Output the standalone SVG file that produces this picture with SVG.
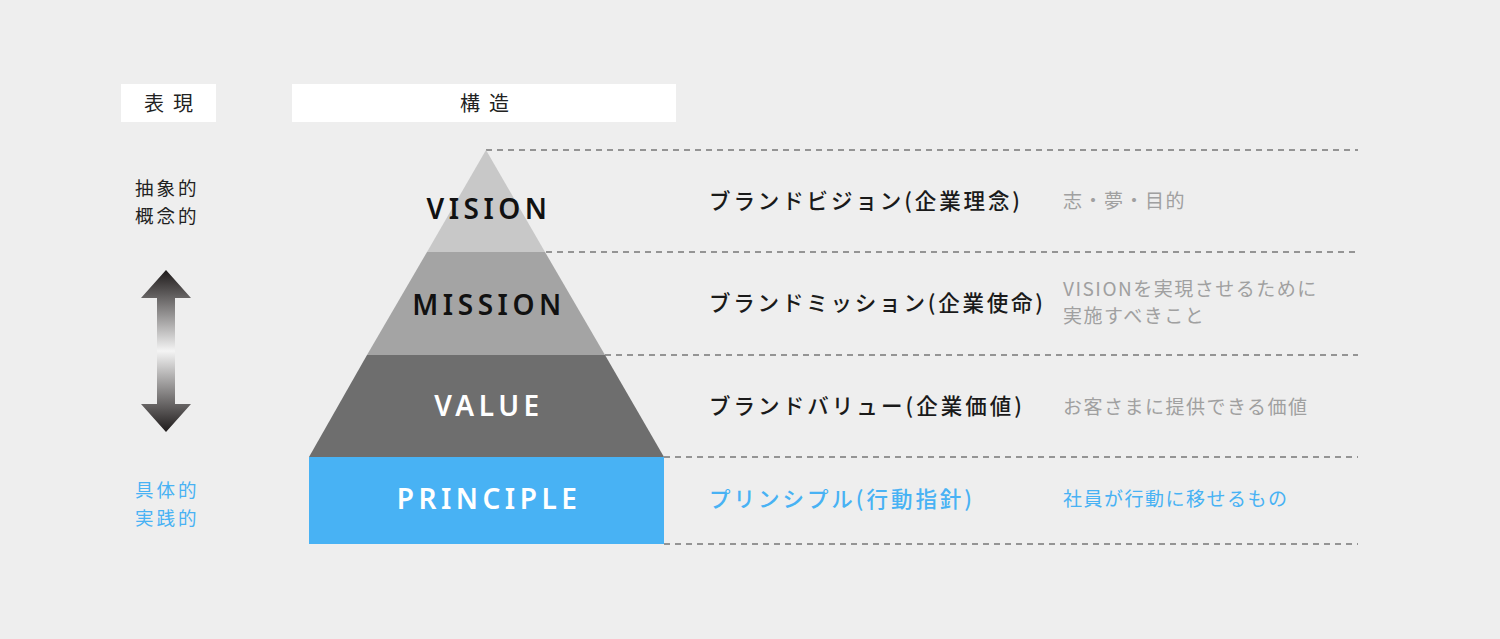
<svg xmlns="http://www.w3.org/2000/svg" width="1500" height="639" viewBox="0 0 1500 639">
<defs>
<linearGradient id="arrowGrad" x1="0" y1="270" x2="0" y2="432" gradientUnits="userSpaceOnUse">
<stop offset="0" stop-color="#1e1a1a"/>
<stop offset="0.5" stop-color="#f4f4f4"/>
<stop offset="1" stop-color="#1e1a1a"/>
</linearGradient>
<style>
.hdr{fill:#ffffff}
.hdrt{font-family:"Noto Sans CJK JP","Noto Sans",sans-serif;font-size:20px;fill:#222;letter-spacing:9px;text-anchor:middle}
.side{font-family:"Noto Sans CJK JP",sans-serif;font-size:18.5px;letter-spacing:3px}
.lvl{font-family:"Noto Sans","Open Sans",sans-serif;font-weight:600;font-size:28px;letter-spacing:4.5px;text-anchor:middle}
.name{font-family:"Noto Sans CJK JP",sans-serif;font-size:21.5px;font-weight:500;fill:#1a1a1a}
.desc{font-family:"Noto Sans CJK JP",sans-serif;font-size:19px;letter-spacing:1.5px;fill:#a0a0a0}
.blue{fill:#48b2f4}
.dash{stroke:#777;stroke-width:1.5;stroke-dasharray:6 5;fill:none}
</style>
</defs>
<rect width="1500" height="639" fill="#eeeeee"/>

<g id="header-hyogen">
<rect class="hdr" x="121" y="84" width="95" height="38"/>
<text class="hdrt" x="173" y="111">表現</text>
</g>
<g id="header-kozo">
<rect class="hdr" x="292" y="84" width="384" height="38"/>
<text class="hdrt" x="489" y="111">構造</text>
</g>

<g id="connectors">
<line class="dash" x1="486" y1="150" x2="1358" y2="150"/>
<line class="dash" x1="546" y1="252" x2="1358" y2="252"/>
<line class="dash" x1="605" y1="355" x2="1358" y2="355"/>
<line class="dash" x1="664" y1="457" x2="1358" y2="457"/>
<line class="dash" x1="664" y1="544" x2="1358" y2="544"/>
</g>

<g id="side-abstract">
<text class="side" x="135" y="195" fill="#222">抽象的</text>
<text class="side" x="135" y="223" fill="#222">概念的</text>
</g>
<g id="side-arrow">
<path d="M166,270 L191,298 L175,298 L175,404 L191,404 L166,432 L141,404 L157,404 L157,298 L141,298 Z" fill="url(#arrowGrad)"/>
</g>
<g id="side-concrete">
<text class="side blue" x="135" y="497">具体的</text>
<text class="side blue" x="135" y="525">実践的</text>
</g>

<g id="vision">
<polygon points="486,150 545,252 427,252" fill="#c8c8c8"/>
<text class="lvl" x="489" y="219" fill="#111">VISION</text>
<text class="name" x="709" y="209" textLength="311" lengthAdjust="spacing">ブランドビジョン(企業理念)</text>
<text class="desc" x="1063" y="208">志・夢・目的</text>
</g>
<g id="mission">
<polygon points="427,252 545,252 605,355 367,355" fill="#a4a4a4"/>
<text class="lvl" x="489" y="315" fill="#111">MISSION</text>
<text class="name" x="709" y="311" textLength="334" lengthAdjust="spacing">ブランドミッション(企業使命)</text>
<text class="desc" x="1063" y="296">VISIONを実現させるために</text>
<text class="desc" x="1063" y="323">実施すべきこと</text>
</g>
<g id="value">
<polygon points="367,355 605,355 664,457 309,457" fill="#6e6e6e"/>
<text class="lvl" x="489" y="416" fill="#ffffff">VALUE</text>
<text class="name" x="709" y="414" textLength="313" lengthAdjust="spacing">ブランドバリュー(企業価値)</text>
<text class="desc" x="1063" y="414">お客さまに提供できる価値</text>
</g>
<g id="principle">
<rect x="309" y="457" width="355" height="87" fill="#48b2f4"/>
<text class="lvl" x="489" y="509" fill="#ffffff">PRINCIPLE</text>
<text class="name blue" x="709" y="507" textLength="263" lengthAdjust="spacing">プリンシプル(行動指針)</text>
<text class="desc blue" x="1063" y="506">社員が行動に移せるもの</text>
</g>
</svg>
